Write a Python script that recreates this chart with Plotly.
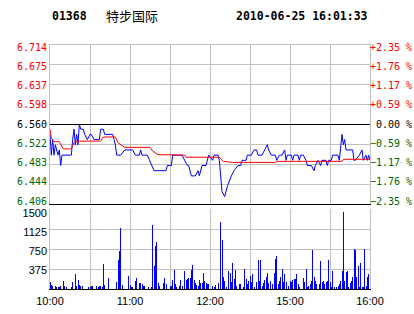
import plotly.graph_objects as go

# ---------------- data ----------------
stock_code = "01368"
stock_name = "特步国际"
stamp = "2010-06-25 16:01:33"
prev_close = 6.560

price_times = ["10:00","10:01","10:02","10:03","10:04","10:05","10:06","10:07","10:08","10:09",
               "10:16","10:17","10:18","10:19","10:20","10:21","10:22","10:23","10:25","10:26",
               "10:28","10:30","10:31","10:33","10:37","10:38","10:40","10:41","10:47","10:48",
               "10:49","10:50","10:53","10:56","11:02","11:04","11:07","11:08","11:09","11:13",
               "11:16","11:18","11:27","11:28","11:31","11:32","11:39","11:41","11:43","11:44",
               "11:46","11:49","11:51","11:52","11:53","11:54","11:57","11:59","12:02","12:03",
               "12:06","12:07","12:08","12:09","12:11","12:12","12:13","12:16","12:18","12:21",
               "12:23","12:24","12:27","12:28","14:31","14:33","14:35","14:36","14:39","14:41",
               "14:43","14:44","14:46","14:49","14:50","14:52","14:54","14:56","14:57","14:58",
               "15:01","15:02","15:03","15:06","15:07","15:08","15:10","15:12","15:13","15:16",
               "15:18","15:19","15:21","15:23","15:24","15:27","15:28","15:29","15:31","15:32",
               "15:36","15:37","15:38","15:39","15:40","15:41","15:42","15:47","15:48","15:49",
               "15:52","15:54","15:55","15:57","15:58","15:59","16:00"]
price_values = [6.54,6.50,6.53,6.50,6.52,6.51,6.50,6.51,6.48,6.50,
                6.50,6.53,6.55,6.52,6.54,6.52,6.56,6.55,6.55,6.54,
                6.53,6.54,6.54,6.53,6.53,6.55,6.55,6.54,6.54,6.53,
                6.52,6.50,6.50,6.51,6.51,6.50,6.50,6.51,6.50,6.50,
                6.48,6.47,6.47,6.48,6.48,6.50,6.50,6.49,6.48,6.48,
                6.46,6.46,6.47,6.46,6.47,6.48,6.48,6.50,6.49,6.50,
                6.50,6.49,6.46,6.43,6.42,6.43,6.44,6.46,6.47,6.48,
                6.48,6.49,6.49,6.50,6.50,6.51,6.51,6.50,6.50,6.51,
                6.52,6.51,6.50,6.50,6.49,6.50,6.50,6.51,6.49,6.50,
                6.50,6.49,6.50,6.50,6.49,6.50,6.50,6.49,6.48,6.48,
                6.47,6.48,6.49,6.48,6.49,6.49,6.48,6.49,6.49,6.50,
                6.50,6.49,6.51,6.54,6.52,6.53,6.51,6.51,6.49,6.49,
                6.50,6.51,6.49,6.50,6.49,6.50,6.49]

avg_times = ["10:00","10:01","10:03","10:07","10:08","10:10","10:16","10:18","10:21","10:38",
             "10:40","10:49","10:51","10:56","11:15","11:17","11:21","11:41","11:42","12:07",
             "12:10","12:17","14:49","14:50","15:39","15:40","16:00"]
avg_values = [6.550,6.533,6.526,6.526,6.521,6.512,6.512,6.524,6.527,6.527,
              6.535,6.535,6.524,6.515,6.515,6.508,6.501,6.500,6.496,6.496,
              6.488,6.486,6.486,6.488,6.488,6.492,6.492]

vol_times = ["10:00","10:01","10:02","10:04","10:05","10:06","10:07","10:08","10:10","10:11",
             "10:12","10:16","10:17","10:19","10:20","10:21","10:22","10:23","10:24","10:29",
             "10:30","10:31","10:32","10:35","10:36","10:37","10:38","10:39","10:40","10:41",
             "10:44","10:50","10:51","10:52","10:53","10:54","10:59","11:00","11:01","11:02",
             "11:04","11:05","11:07","11:08","11:09","11:10","11:11","11:14","11:16","11:17",
             "11:18","11:19","11:20","11:21","11:22","11:25","11:26","11:27","11:30","11:31",
             "11:32","11:33","11:34","11:35","11:37","11:38","11:39","11:41","11:42","11:43",
             "11:44","11:45","11:46","11:47","11:48","11:49","11:50","11:51","11:52","11:53",
             "11:54","11:55","11:56","11:57","11:58","11:59","12:02","12:03","12:04","12:06",
             "12:08","12:09","12:10","12:11","12:12","12:14","12:15","12:16","12:17","12:18",
             "12:19","12:20","12:22","12:23","12:25","12:26","12:27","12:28","12:29","14:30",
             "14:31","14:32","14:33","14:35","14:36","14:37","14:38","14:39","14:40","14:41",
             "14:42","14:43","14:44","14:45","14:47","14:48","14:49","14:50","14:51","14:52",
             "14:53","14:54","14:55","14:56","14:57","14:59","15:00","15:01","15:02","15:03",
             "15:04","15:05","15:06","15:07","15:10","15:11","15:12","15:13","15:14","15:15",
             "15:16","15:17","15:18","15:19","15:20","15:22","15:23","15:24","15:25","15:26",
             "15:27","15:28","15:29","15:30","15:31","15:32","15:33","15:35","15:36","15:37",
             "15:38","15:39","15:40","15:41","15:42","15:43","15:44","15:45","15:46","15:47",
             "15:48","15:49","15:50","15:51","15:52","15:53","15:54","15:55","15:56","15:57",
             "15:58","15:59","16:00"]
vol_values = [139,80,50,50,40,40,40,65,158,60,
              40,40,139,272,65,177,80,65,50,40,
              40,50,65,50,40,65,55,40,462,80,
              215,139,551,709,1146,80,247,80,40,40,
              158,215,120,110,90,60,60,40,40,1203,
              424,804,873,120,60,120,205,90,60,60,
              177,348,90,40,60,170,60,329,170,190,
              200,210,348,443,170,120,70,60,170,120,
              114,297,145,120,100,100,60,40,80,120,
              1247,918,234,158,44,329,298,127,487,190,
              348,63,95,95,44,367,190,95,158,253,
              127,285,44,139,538,158,538,63,108,171,
              222,298,108,158,95,298,570,620,95,158,
              222,367,127,285,127,63,158,127,171,190,
              190,285,95,44,203,127,367,44,63,95,
              146,728,234,158,95,95,525,127,158,95,
              127,146,538,127,44,329,44,44,63,95,
              146,329,1444,146,316,329,44,108,158,222,
              741,728,222,424,44,487,44,44,741,63,
              234,272,171]

price_ticks = ["6.714","6.675","6.637","6.598","6.560","6.522","6.483","6.444","6.406"]
pct_ticks = ["+2.35 %","+1.76 %","+1.17 %","+0.59 %","\u00a00.00 %",
             "\u22120.59 %","\u22121.17 %","\u22121.76 %","\u22122.35 %"]
vol_tick_vals = [375, 750, 1125, 1500]
vol_tick_text = ["375", "750", "1125", "1500"]
time_tick_text = ["10:00", "", "11:00", "", "12:00", "", "15:00", "", "16:00"]

# ---------------- helpers ----------------
def trade_minute(t):
    h, m = map(int, t.split(":"))
    mins = h * 60 + m
    if mins <= 12 * 60 + 30:
        return mins - 10 * 60
    return 150 + mins - (14 * 60 + 30)

price_x = [trade_minute(t) for t in price_times]
avg_x = [trade_minute(t) for t in avg_times]
vol_x = [trade_minute(t) for t in vol_times]

max_pct = 2.35
y_lo = prev_close * (1 - max_pct / 100)
y_hi = prev_close * (1 + max_pct / 100)
n = len(price_ticks)
y_ticks = [y_hi - i * (y_hi - y_lo) / (n - 1) for i in range(n)]

RED = "#ff0000"
GREEN = "#006600"
BLUE = "#0000ff"
GRID = "#c0c0c0"

def colored(txt, v):
    if abs(v - prev_close) < 1e-6:
        c = "#000000"
    elif v > prev_close:
        c = RED
    else:
        c = GREEN
    return f'<span style="color:{c}">{txt}</span>'

left_text = [colored(t, v) for t, v in zip(price_ticks, y_ticks)]
right_text = [colored(t, v) for t, v in zip(pct_ticks, y_ticks)]

# ---------------- layout geometry (pixels) ----------------
H = 314
mt, mb = 44, 25
ph = H - mt - mb
price_top_px, price_bot_px = 44, 204
vol_top_px, vol_bot_px = 209, 289
price_bottom = (H - mb - price_bot_px) / ph
vol_top = (H - mb - vol_top_px) / ph

price_len = price_bot_px - price_top_px
lab_pad = 3.0
e = (y_hi - y_lo) * lab_pad / (price_len - 2 * lab_pad)
lab_range = [y_lo - e, y_hi + e]

vol_len = vol_bot_px - vol_top_px
v_span = (vol_tick_vals[-1] - vol_tick_vals[0]) * vol_len / 57.5
v_hi = vol_tick_vals[-1] + 4.0 * v_span / vol_len
vol_lab_range = [v_hi - v_span, v_hi]

mono = "DejaVu Sans Mono"
sans = "Liberation Sans"
grid_vals = list(range(0, 241, 30))

# ---------------- figure ----------------
fig = go.Figure()
fig.add_trace(go.Bar(x=vol_x, y=vol_values, width=0.75,
                     marker=dict(color=BLUE, line=dict(width=0)),
                     xaxis="x2", yaxis="y2", hoverinfo="skip"))
fig.add_trace(go.Scatter(x=price_x, y=price_values, mode="lines",
                         line=dict(color=BLUE, width=1), xaxis="x", yaxis="y",
                         hoverinfo="skip"))
fig.add_trace(go.Scatter(x=avg_x, y=avg_values, mode="lines",
                         line=dict(color=RED, width=1), xaxis="x", yaxis="y",
                         hoverinfo="skip"))
for ya in ("y3", "y4"):
    fig.add_trace(go.Scatter(x=[price_x[0]], y=[prev_close], mode="markers", xaxis="x",
                             yaxis=ya, marker=dict(opacity=0), hoverinfo="skip"))
fig.add_trace(go.Scatter(x=[vol_x[0]], y=[vol_values[0]], mode="markers", xaxis="x2",
                         yaxis="y5", marker=dict(opacity=0), hoverinfo="skip"))

common = dict(automargin=False, fixedrange=True, zeroline=False, ticks="")

fig.update_layout(
    width=414, height=314,
    margin=dict(l=50, r=44, t=mt, b=mb, autoexpand=False),
    paper_bgcolor="white", plot_bgcolor="white",
    showlegend=False, bargap=0,
    font=dict(family=sans, size=11, color="black"),
    xaxis=dict(domain=[0, 1], anchor="y", range=[0, 240], tickvals=grid_vals,
               showticklabels=False, showgrid=True, gridcolor=GRID, gridwidth=1,
               showline=True, linecolor="black", linewidth=1, **common),
    yaxis=dict(domain=[price_bottom, 1], anchor="x", range=[y_lo, y_hi],
               tickvals=y_ticks, showticklabels=False, showgrid=True, gridcolor=GRID,
               showline=True, linecolor=GRID, mirror=True, **common),
    yaxis4=dict(overlaying="y", side="left", anchor="x", range=lab_range,
                tickvals=y_ticks, ticktext=left_text, showgrid=False,
                showline=False, tickfont=dict(family=mono, size=10),
                ticklabelstandoff=2, **common),
    yaxis3=dict(overlaying="y", side="right", anchor="x", range=lab_range,
                tickvals=y_ticks, ticktext=right_text, showgrid=False,
                showline=False, tickfont=dict(family=mono, size=10),
                ticklabelstandoff=-1, **common),
    xaxis2=dict(domain=[0, 1], anchor="y2", range=[0, 240], tickvals=grid_vals,
                ticktext=time_tick_text, showgrid=True, gridcolor=GRID,
                showline=True, linecolor="black", linewidth=1,
                tickfont=dict(family=sans, size=11), ticklabelstandoff=2, **common),
    yaxis2=dict(domain=[0, vol_top], anchor="x2", range=[0, 1500],
                tickvals=vol_tick_vals, showticklabels=False, showgrid=True,
                gridcolor=GRID, showline=True, linecolor=GRID, mirror=True, **common),
    yaxis5=dict(overlaying="y2", side="left", anchor="x2", range=vol_lab_range,
                tickvals=vol_tick_vals, ticktext=vol_tick_text, showgrid=False,
                showline=False, tickfont=dict(family=sans, size=11),
                ticklabelstandoff=2, **common),
)

# previous-close reference line and top border (nudged half a pixel for a crisp 1px line)
fig.add_shape(type="line", xref="x domain", yref="y", ysizemode="pixel",
              yanchor=prev_close, x0=0, x1=1, y0=-0.5, y1=-0.5,
              line=dict(color="black", width=1))
fig.add_shape(type="line", xref="x domain", yref="y", ysizemode="pixel",
              yanchor=y_hi, x0=0, x1=1, y0=-0.5, y1=-0.5,
              line=dict(color=GRID, width=1))

def px_to_paper_y(py):
    return (H - mb - py) / ph

def px_to_paper_x(px):
    return (px - 50) / 320

fig.add_annotation(text=f"<b>{stock_code}</b>", x=px_to_paper_x(50), y=px_to_paper_y(16.5),
                   xref="paper", yref="paper", xanchor="left", yanchor="middle",
                   showarrow=False, font=dict(family=mono, size=11.5, color="black"))
fig.add_annotation(text=stock_name, x=px_to_paper_x(104), y=px_to_paper_y(15.5),
                   xref="paper", yref="paper", xanchor="left", yanchor="middle",
                   showarrow=False, font=dict(family="Noto Sans CJK SC", size=13, color="black"))
fig.add_annotation(text=f"<b>{stamp}</b>", x=px_to_paper_x(370), y=px_to_paper_y(16.5),
                   xref="paper", yref="paper", xanchor="right", yanchor="middle",
                   showarrow=False, font=dict(family=mono, size=11.5, color="black"))

fig.write_html("out.html", config={"displayModeBar": False, "staticPlot": True})
